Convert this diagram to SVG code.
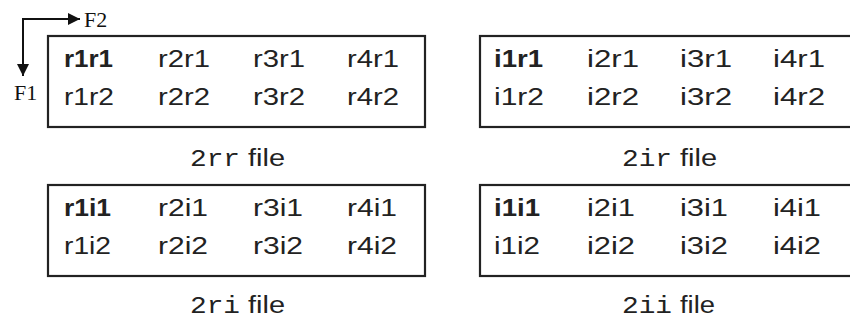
<svg xmlns="http://www.w3.org/2000/svg" width="850" height="321" viewBox="0 0 850 321">
  <style>
    .box { fill: #fff; stroke: #222; stroke-width: 2.2; }
    .c { font-family: "Liberation Sans", Arial, sans-serif; font-size: 23px; fill: #222; }
    .b { font-weight: bold; }
    .m { font-family: "Liberation Mono", "Courier New", monospace; font-size: 24px; fill: #222; }
    .f { font-family: "Liberation Serif", "Times New Roman", serif; font-size: 22px; fill: #111; }
    .ax { stroke: #111; stroke-width: 2; fill: none; }
  </style>
  <defs>
    <marker id="ah" viewBox="0 0 10 10" refX="10" refY="5" markerWidth="12" markerHeight="12" markerUnits="userSpaceOnUse" orient="auto">
      <path d="M0,0 L10,5 L0,10 z" fill="#111"/>
    </marker>
  </defs>
  <rect width="850" height="321" fill="#fff"/>

  <g id="connectors">
    <path class="ax" d="M23,19 L23,76" marker-end="url(#ah)"/>
    <path class="ax" d="M22,19 L80,19" marker-end="url(#ah)"/>
  </g>
  <g id="axis-labels">
    <text class="f" x="84" y="27">F2</text>
    <text class="f" x="14" y="100">F1</text>
  </g>

  <g id="file-2rr">
    <rect class="box" x="48" y="36" width="377" height="91"/>
    <text class="c b" x="64" y="67" textLength="49" lengthAdjust="spacingAndGlyphs">r1r1</text>
    <text class="c" x="158" y="67" textLength="52" lengthAdjust="spacingAndGlyphs">r2r1</text>
    <text class="c" x="253" y="67" textLength="52" lengthAdjust="spacingAndGlyphs">r3r1</text>
    <text class="c" x="347" y="67" textLength="52" lengthAdjust="spacingAndGlyphs">r4r1</text>
    <text class="c" x="64" y="105" textLength="50" lengthAdjust="spacingAndGlyphs">r1r2</text>
    <text class="c" x="158" y="105" textLength="52" lengthAdjust="spacingAndGlyphs">r2r2</text>
    <text class="c" x="253" y="105" textLength="52" lengthAdjust="spacingAndGlyphs">r3r2</text>
    <text class="c" x="347" y="105" textLength="52" lengthAdjust="spacingAndGlyphs">r4r2</text>
    <text class="m" x="190" y="166" textLength="50" lengthAdjust="spacingAndGlyphs">2rr</text>
    <text class="c" x="248" y="166" textLength="37" lengthAdjust="spacingAndGlyphs">file</text>
  </g>

  <g id="file-2ir">
    <rect class="box" x="480" y="36" width="377" height="91"/>
    <text class="c b" x="494" y="67" textLength="49" lengthAdjust="spacingAndGlyphs">i1r1</text>
    <text class="c" x="587" y="67" textLength="52" lengthAdjust="spacingAndGlyphs">i2r1</text>
    <text class="c" x="680" y="67" textLength="52" lengthAdjust="spacingAndGlyphs">i3r1</text>
    <text class="c" x="773" y="67" textLength="52" lengthAdjust="spacingAndGlyphs">i4r1</text>
    <text class="c" x="494" y="105" textLength="50" lengthAdjust="spacingAndGlyphs">i1r2</text>
    <text class="c" x="587" y="105" textLength="52" lengthAdjust="spacingAndGlyphs">i2r2</text>
    <text class="c" x="680" y="105" textLength="52" lengthAdjust="spacingAndGlyphs">i3r2</text>
    <text class="c" x="773" y="105" textLength="52" lengthAdjust="spacingAndGlyphs">i4r2</text>
    <text class="m" x="622" y="166" textLength="50" lengthAdjust="spacingAndGlyphs">2ir</text>
    <text class="c" x="680" y="166" textLength="37" lengthAdjust="spacingAndGlyphs">file</text>
  </g>

  <g id="file-2ri">
    <rect class="box" x="48" y="185" width="377" height="91"/>
    <text class="c b" x="64" y="216" textLength="47" lengthAdjust="spacingAndGlyphs">r1i1</text>
    <text class="c" x="158" y="216" textLength="50" lengthAdjust="spacingAndGlyphs">r2i1</text>
    <text class="c" x="253" y="216" textLength="50" lengthAdjust="spacingAndGlyphs">r3i1</text>
    <text class="c" x="347" y="216" textLength="50" lengthAdjust="spacingAndGlyphs">r4i1</text>
    <text class="c" x="64" y="254" textLength="47" lengthAdjust="spacingAndGlyphs">r1i2</text>
    <text class="c" x="158" y="254" textLength="50" lengthAdjust="spacingAndGlyphs">r2i2</text>
    <text class="c" x="253" y="254" textLength="50" lengthAdjust="spacingAndGlyphs">r3i2</text>
    <text class="c" x="347" y="254" textLength="50" lengthAdjust="spacingAndGlyphs">r4i2</text>
    <text class="m" x="190" y="313" textLength="50" lengthAdjust="spacingAndGlyphs">2ri</text>
    <text class="c" x="248" y="313" textLength="37" lengthAdjust="spacingAndGlyphs">file</text>
  </g>

  <g id="file-2ii">
    <rect class="box" x="480" y="185" width="377" height="91"/>
    <text class="c b" x="494" y="216" textLength="46" lengthAdjust="spacingAndGlyphs">i1i1</text>
    <text class="c" x="587" y="216" textLength="48" lengthAdjust="spacingAndGlyphs">i2i1</text>
    <text class="c" x="680" y="216" textLength="48" lengthAdjust="spacingAndGlyphs">i3i1</text>
    <text class="c" x="773" y="216" textLength="48" lengthAdjust="spacingAndGlyphs">i4i1</text>
    <text class="c" x="494" y="254" textLength="46" lengthAdjust="spacingAndGlyphs">i1i2</text>
    <text class="c" x="587" y="254" textLength="48" lengthAdjust="spacingAndGlyphs">i2i2</text>
    <text class="c" x="680" y="254" textLength="48" lengthAdjust="spacingAndGlyphs">i3i2</text>
    <text class="c" x="773" y="254" textLength="48" lengthAdjust="spacingAndGlyphs">i4i2</text>
    <text class="m" x="622" y="313" textLength="50" lengthAdjust="spacingAndGlyphs">2ii</text>
    <text class="c" x="680" y="313" textLength="35" lengthAdjust="spacingAndGlyphs">file</text>
  </g>
</svg>
